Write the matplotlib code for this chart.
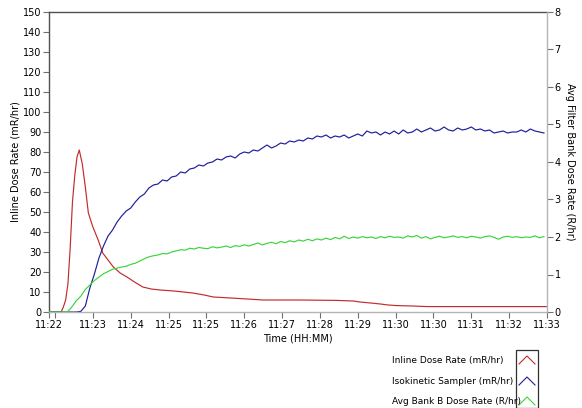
import matplotlib
matplotlib.use("Agg")
import matplotlib.pyplot as plt
from matplotlib.patches import Rectangle
from matplotlib.lines import Line2D

# ---------------- data ----------------
# x axis: seconds elapsed since 11:22
tick_seconds = [0, 58, 108, 158, 208, 258, 308, 358, 408, 458, 508, 558, 608, 658]
tick_labels = ["11:22", "11:23", "11:24", "11:25", "11:25", "11:26", "11:27",
               "11:28", "11:29", "11:30", "11:30", "11:31", "11:32", "11:33"]

red_t = [0, 16, 19, 22, 25, 28, 31, 34, 37, 40, 44, 48, 52, 58, 65, 71, 78, 85,
         94, 103, 113, 124, 135, 147, 165, 190, 205, 217, 240, 262, 283, 330,
         380, 402, 411, 425, 438, 448, 460, 480, 500, 658]
red_v = [0, 0, 2.5, 6, 14, 32, 55, 68, 77.5, 81, 74, 62.5, 49.5, 42.5, 36, 29.5,
         26, 22.5, 19.5, 17.5, 15, 12.5, 11.5, 11, 10.5, 9.5, 8.5, 7.5, 7, 6.5,
         6, 6, 5.8, 5.5, 5, 4.5, 4, 3.5, 3.2, 3, 2.7, 2.7]

# blue / green sampled every 6 s from 0 to 654 s
sample_t = [6 * i for i in range(110)]
blue_v = [0, 0, 0, 0, 0, 0, 0, 0.3, 3, 12, 19, 27, 33, 38, 41, 45, 48, 50.5, 52,
          55, 57.5, 59, 62, 63.5, 64, 66, 65.5, 67.5, 68, 70, 69.5, 71.5, 72,
          73.5, 73, 74.5, 75, 76.5, 76, 77.5, 78, 77, 79, 80, 79.5, 81, 80.5,
          82, 83.5, 82, 83, 84.5, 84, 85.5, 85, 86, 85.5, 87, 86.5, 88, 87.5,
          88.5, 87, 88, 87.5, 88.5, 87, 88, 89, 88, 90.5, 89.5, 90, 88.5, 90,
          89, 90.5, 89, 91, 89.5, 90, 91.5, 90, 91, 92, 90.5, 91, 92.5, 91,
          90.5, 92, 91, 91.5, 92.5, 91, 91.5, 90.5, 91, 89.5, 90, 90.5, 89.5,
          90, 90, 91, 90, 91.5, 90.5, 90, 89.5]
green_v = [0, 0, 0, 0, 0, 0.13, 0.3, 0.42, 0.6, 0.72, 0.84, 0.93, 1.02, 1.08,
           1.14, 1.17, 1.2, 1.22, 1.27, 1.3, 1.36, 1.42, 1.47, 1.5, 1.52, 1.56,
           1.55, 1.6, 1.63, 1.66, 1.65, 1.7, 1.68, 1.72, 1.7, 1.69, 1.74, 1.71,
           1.73, 1.76, 1.72, 1.77, 1.75, 1.79, 1.76, 1.8, 1.84, 1.79, 1.83, 1.86,
           1.82, 1.88, 1.85, 1.9, 1.87, 1.92, 1.89, 1.94, 1.9, 1.95, 1.92, 1.97,
           1.93, 1.99, 1.95, 2.02, 1.96, 2.0, 1.97, 2.01, 1.98, 2.0, 1.96, 2.01,
           1.98, 2.02, 1.99, 2.0, 1.97, 2.03, 2.0, 2.04, 1.97, 2.01, 1.95, 1.99,
           2.02, 1.98, 2.0, 2.03, 1.99, 2.01, 1.98, 2.02, 2.0, 1.97, 2.01, 2.03,
           1.99, 1.94, 2.0, 2.02, 1.99, 2.01, 1.98, 2.0, 1.99, 2.03, 1.98, 2.01]

series_labels = ["Inline Dose Rate (mR/hr)", "Isokinetic Sampler (mR/hr)",
                 "Avg Bank B Dose Rate (R/hr)"]

# ---------------- style ----------------
RED = "#c42a2a"
BLUE = "#1e1e9c"
GREEN = "#3cd43c"
FS = 7

fig = plt.figure(figsize=(5.82, 4.08), dpi=100)
ax = fig.add_axes([49 / 582, 96 / 408, (547 - 49) / 582, (312 - 12) / 408])
ax2 = ax.twinx()

ax.plot(red_t, red_v, color=RED, lw=0.85)
ax.plot(sample_t, blue_v, color=BLUE, lw=0.85)
ax2.plot(sample_t, green_v, color=GREEN, lw=0.85)

ax.set_xlim(0, 658)
ax.set_ylim(0, 150)
ax2.set_ylim(0, 8)
ax.set_yticks(range(0, 151, 10))
ax2.set_yticks(range(0, 9))
ax.set_xticks(tick_seconds)
ax.set_xticklabels(tick_labels)
ax.set_xticks([8], minor=True)

for a in (ax, ax2):
    a.tick_params(labelsize=FS, length=4, width=0.8, color="#707070", pad=1.5)
ax.tick_params(axis="x", which="minor", length=4, width=0.8, color="#707070")

# spines: dark top/left, light grey bottom/right
for s in ("top", "left", "bottom", "right"):
    ax2.spines[s].set_visible(False)
ax.spines["right"].set_visible(False)
ax2.spines["right"].set_visible(True)
ax2.spines["right"].set_color("#b4b4b4")
ax.spines["bottom"].set_color("#b4b4b4")
ax.spines["top"].set_color("#505050")
ax.spines["left"].set_color("#505050")
for sp in list(ax.spines.values()) + list(ax2.spines.values()):
    sp.set_linewidth(1.0)

ax.set_ylabel("Inline Dose Rate (mR/hr)", fontsize=FS, labelpad=2)
ax2.set_ylabel("Avg Filter Bank Dose Rate (R/hr)", fontsize=FS, rotation=-90,
               labelpad=10)
ax.set_xlabel("Time (HH:MM)", fontsize=FS, labelpad=3)

# ---------------- legend (outside, bottom right) ----------------
colors = [RED, BLUE, GREEN]
ys = [360, 381, 401]
for lab, c, yp in zip(series_labels, colors, ys):
    fig.text(392 / 582, 1 - yp / 408, lab, fontsize=FS - 0.5, va="center",
             ha="left")
    fig.add_artist(Line2D([519 / 582, 527 / 582, 535 / 582],
                          [1 - (yp + 4) / 408, 1 - (yp - 4) / 408, 1 - (yp + 4) / 408],
                          color=c, lw=0.8, transform=fig.transFigure))
fig.add_artist(Rectangle((516 / 582, 0), 22 / 582, (408 - 350) / 408,
                         transform=fig.transFigure, fill=False,
                         edgecolor="#303030", lw=0.9))

fig.savefig("out.png", dpi=100)
